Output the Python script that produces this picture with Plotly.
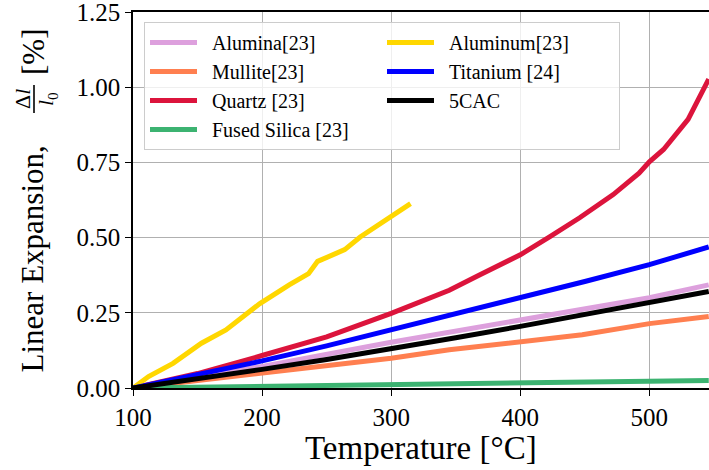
import plotly.graph_objects as go

# ---- data ----
alumina_t = [100, 200, 300, 400, 500, 546]
alumina_v = [0, 0.072, 0.152, 0.226, 0.300, 0.343]

mullite_t = [100, 190, 300, 345, 368, 448, 500, 546]
mullite_v = [0, 0.043, 0.099, 0.127, 0.138, 0.177, 0.214, 0.238]

quartz_t = [100, 150, 200, 250, 300, 345, 368, 400, 423, 446, 472, 492, 500, 511, 530, 546]
quartz_v = [0, 0.048, 0.108, 0.17, 0.248, 0.325, 0.375, 0.443, 0.503, 0.566, 0.643, 0.714, 0.752, 0.793, 0.893, 1.027]

silica_t = [100, 200, 300, 400, 450, 500, 546]
silica_v = [0, 0.005, 0.011, 0.017, 0.018, 0.022, 0.025]

aluminum_t = [100, 112, 131, 153, 172, 198, 221, 236, 243, 264, 276, 300, 315]
aluminum_v = [0, 0.038, 0.082, 0.149, 0.193, 0.28, 0.343, 0.38, 0.421, 0.46, 0.502, 0.571, 0.613]

titanium_t = [100, 150, 200, 250, 300, 350, 400, 450, 500, 546]
titanium_v = [0, 0.043, 0.09, 0.14, 0.193, 0.248, 0.30, 0.354, 0.41, 0.469]

cac_t = [100, 150, 200, 250, 300, 350, 400, 450, 500, 546]
cac_v = [0, 0.03, 0.062, 0.095, 0.13, 0.167, 0.205, 0.244, 0.284, 0.321]

series = [
    ("Alumina[23]", alumina_t, alumina_v, "#DDA0DD", 1),
    ("Mullite[23]", mullite_t, mullite_v, "#FF7F50", 3),
    ("Quartz [23]", quartz_t, quartz_v, "#DC143C", 5),
    ("Fused Silica [23]", silica_t, silica_v, "#3CB371", 7),
    ("Aluminum[23]", aluminum_t, aluminum_v, "#FFD700", 2),
    ("Titanium [24]", titanium_t, titanium_v, "#0000FF", 4),
    ("5CAC", cac_t, cac_v, "#000000", 6),
]

x_ticks = [100, 200, 300, 400, 500]
y_ticks = [0, 0.25, 0.5, 0.75, 1.0, 1.25]

FONT = "Liberation Serif"
W, H = 709, 470
ML, MR, MT, MB = 133, 0, 12, 82
PW, PH = W - ML - MR, H - MT - MB


def px(xp):
    return (xp - ML) / PW


def py(yp):
    return (H - MB - yp) / PH


fig = go.Figure()
for name, t, v, c, rank in series:
    fig.add_trace(go.Scatter(x=t, y=v, mode="lines", name="\u2002" + name,
                             line=dict(color=c, width=5), legendrank=rank))

axis_common = dict(showline=True, linecolor="black", linewidth=1.6,
                   ticks="outside", ticklen=6, tickwidth=1.3, tickcolor="black",
                   showgrid=True, gridcolor="#b0b0b0", gridwidth=1,
                   zeroline=False, ticklabeloverflow="allow",
                   tickfont=dict(family=FONT, size=25, color="black"))

fig.update_xaxes(range=[100, 546.2], tickvals=x_ticks, mirror=True, **axis_common)
fig.update_yaxes(range=[0, 1.2502], tickvals=y_ticks, tickformat=".2f", mirror=False, **axis_common)

fig.update_layout(
    width=W, height=H,
    margin=dict(l=ML, r=MR, t=MT, b=MB),
    plot_bgcolor="white", paper_bgcolor="white",
    font=dict(family=FONT, color="black"),
    legend=dict(orientation="h", x=px(144), y=py(22), xanchor="left", yanchor="top",
                bgcolor="rgba(255,255,255,0.8)", bordercolor="#cccccc", borderwidth=1,
                font=dict(family=FONT, size=20, color="black"),
                itemwidth=47, entrywidth=175, traceorder="normal"),
    showlegend=True,
)

# x-axis title
fig.add_annotation(text="Temperature [°C]", xref="paper", yref="paper",
                   x=0.5, y=py(448), xanchor="center", yanchor="middle",
                   showarrow=False, font=dict(family=FONT, size=33, color="black"))

# y-axis title built from pieces
fig.add_annotation(text="Linear Expansion,", xref="paper", yref="paper",
                   x=px(32), y=py(375), xanchor="center", yanchor="bottom", textangle=-90,
                   showarrow=False, font=dict(family=FONT, size=31, color="black"))
fig.add_annotation(text="Δ<i>l</i>", xref="paper", yref="paper",
                   x=px(22), y=py(99), xanchor="center", yanchor="middle", textangle=-90,
                   showarrow=False, font=dict(family=FONT, size=22, color="black"))
fig.add_annotation(text="<i>l</i><sub>0</sub>", xref="paper", yref="paper",
                   x=px(47), y=py(99), xanchor="center", yanchor="middle", textangle=-90,
                   showarrow=False, font=dict(family=FONT, size=22, color="black"))
fig.add_shape(type="line", xref="paper", yref="paper",
              x0=px(34), x1=px(34), y0=py(85), y1=py(113),
              line=dict(color="black", width=1.6))
fig.add_annotation(text="[%]", xref="paper", yref="paper",
                   x=px(33), y=py(27), xanchor="center", yanchor="top", textangle=-90,
                   showarrow=False, font=dict(family=FONT, size=31, color="black"))

fig.write_html("out.html")
